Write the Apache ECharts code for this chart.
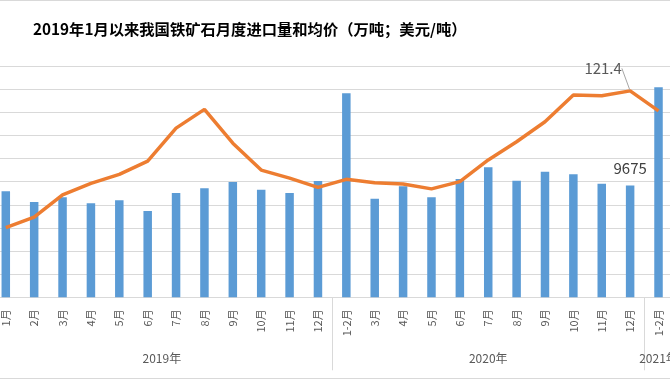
<!DOCTYPE html>
<html>
<head>
<meta charset="utf-8">
<script src="https://cdn.jsdelivr.net/npm/echarts@6/dist/echarts.min.js"></script>
<style>
html,body{margin:0;padding:0;background:#fff;overflow:hidden;}
#c{width:670px;height:380px;}
</style>
</head>
<body>
<div id="c"></div>
<script>
// categories (months) and groups
const months = ['1月','2月','3月','4月','5月','6月','7月','8月','9月','10月','11月','12月',
  '1-2月','3月','4月','5月','6月','7月','8月','9月','10月','11月','12月',
  '1-2月'];
const groups = ['2019年','2020年','2021年'];
const groupSpans = [12, 11, 1];

// import volume (万吨)
const importVolume = [9170, 8240, 8650, 8130, 8390, 7460, 9020, 9430, 9970, 9300, 9020, 10060,
  17640, 8530, 9600, 8650, 10230, 11240, 10080, 10860, 10640, 9820, 9675,
  18160];
// average price (美元/吨)
const avgPrice = [74.1, 77.7, 85.4, 89.4, 92.5, 97.1, 108.5, 115.0, 103.3, 94.0, 91.2, 88.0,
  90.8, 89.6, 89.2, 87.5, 90.0, 97.5, 103.8, 110.7, 120.0, 119.7, 121.4,
  114.5];

const labelledIndex = 22;

// group centers and boundaries computed from spans
const groupCenters = {};
const boundaries = [0];
let start = 0;
groupSpans.forEach((s, i) => {
  groupCenters[(start + (s - 1) / 2).toFixed(1)] = groups[i];
  start += s;
  boundaries.push(start);
});

const chart = echarts.init(document.getElementById('c'), null, {renderer: 'canvas'});
const fontFam = '"Noto Sans CJK SC", "Noto Sans", sans-serif';
chart.setOption({
  animation: false,
  backgroundColor: '#ffffff',
  title: {
    text: '2019年1月以来我国铁矿石月度进口量和均价（万吨；美元/吨）',
    left: 28, top: 17,
    textStyle: {fontSize: 15.3, fontWeight: 'bold', color: '#000', fontFamily: fontFam}
  },
  graphic: [{
    type: 'rect', shape: {x: -1, y: 0.5, width: 690, height: 378},
    style: {fill: 'none', stroke: '#d9d9d9', lineWidth: 1}, silent: true
  }],
  grid: {left: -8.4, right: -2.7, top: 66, bottom: 82.7, containLabel: false, outerBoundsMode: 'none'},
  xAxis: [{
    type: 'category',
    data: months,
    boundaryGap: true,
    axisLine: {show: true, lineStyle: {color: '#d9d9d9', width: 1}},
    axisTick: {
      show: true, length: 73,
      interval: (index) => boundaries.indexOf(index) >= 0,
      lineStyle: {color: '#d9d9d9', width: 1}
    },
    axisLabel: {
      rotate: 90, interval: 0, margin: 12,
      fontSize: 11, color: '#595959', fontFamily: fontFam
    }
  }, {
    type: 'value',
    position: 'bottom',
    min: -0.5, max: months.length - 0.5, interval: 0.5,
    axisLine: {show: false}, axisTick: {show: false}, splitLine: {show: false},
    axisLabel: {
      margin: 55, fontSize: 12, color: '#595959', fontFamily: fontFam,
      showMinLabel: true, showMaxLabel: true,
      formatter: (v) => groupCenters[v.toFixed(1)] || ''
    }
  }],
  yAxis: [{
    type: 'value', min: 0, max: 20000, interval: 2000,
    axisLine: {show: false}, axisTick: {show: false}, axisLabel: {show: false},
    splitLine: {show: true, lineStyle: {color: '#d9d9d9', width: 1}}
  }, {
    type: 'value', min: 50, max: 130,
    axisLine: {show: false}, axisTick: {show: false}, axisLabel: {show: false},
    splitLine: {show: false}
  }],
  series: [{
    type: 'bar',
    xAxisIndex: 0, yAxisIndex: 0,
    barWidth: 8.5,
    itemStyle: {color: '#5b9bd5'},
    data: importVolume.map((v, i) => i === labelledIndex ? {
      value: v,
      label: {show: true, position: 'top', distance: 10, fontSize: 15, color: '#404040', fontFamily: fontFam}
    } : v)
  }, {
    type: 'line',
    xAxisIndex: 0, yAxisIndex: 1,
    symbol: 'none',
    lineStyle: {color: '#ed7d31', width: 3.5},
    itemStyle: {color: '#ed7d31'},
    data: avgPrice.map((v, i) => i === labelledIndex ? {
      value: v,
      symbol: 'circle', symbolSize: 2,
      label: {show: true, position: 'top', fontSize: 15, color: '#595959', fontFamily: fontFam},
      labelLine: {show: true, lineStyle: {color: '#a6a6a6', width: 1}}
    } : v),
    labelLayout: (p) => p.dataIndex === labelledIndex ? {dx: -27, dy: -9} : {},
    labelLine: {show: true, lineStyle: {color: '#a6a6a6', width: 1}}
  }]
});
</script>
</body>
</html>
